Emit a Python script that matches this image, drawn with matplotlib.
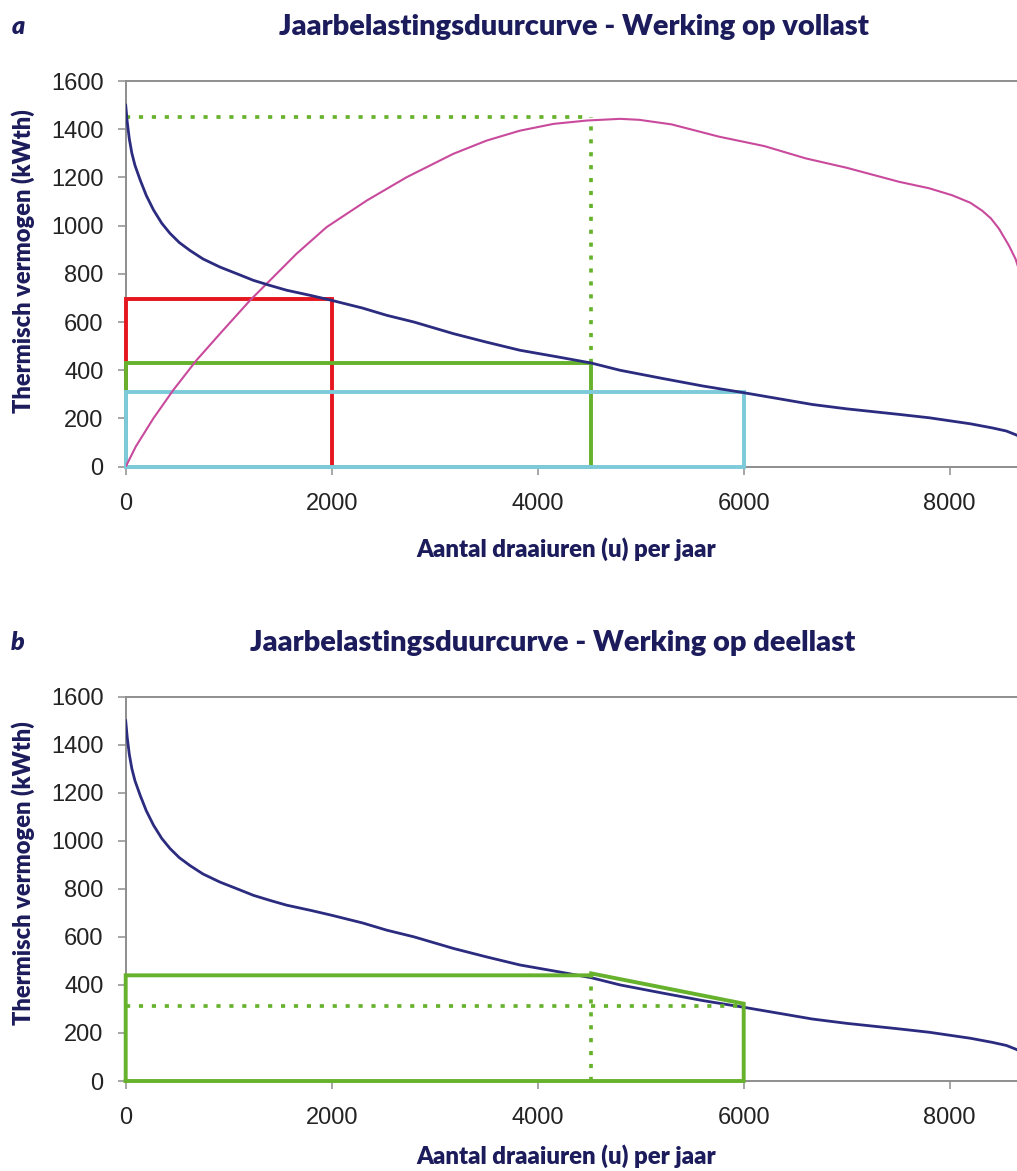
import matplotlib
matplotlib.use("Agg")
import matplotlib.pyplot as plt
import numpy as np

plt.rcParams['lines.scale_dashes'] = False
plt.rcParams['font.family'] = ['Liberation Sans', 'DejaVu Sans']

# ---------------- data ----------------
hours_load = [0, 15, 35, 60, 90, 140, 200, 270, 350, 430, 520, 624, 750, 916, 1100,
              1240, 1400, 1563, 1800, 2000, 2300, 2534, 2800, 3181, 3500, 3828, 4200,
              4520, 4800, 5200, 5600, 6000, 6300, 6667, 7000, 7507, 7800, 8024, 8200,
              8412, 8550, 8639, 8700, 8760]
load_kw = [1500, 1430, 1360, 1300, 1250, 1190, 1125, 1065, 1010, 968, 930, 897, 862,
           828, 797, 773, 752, 732, 710, 690, 658, 628, 600, 552, 517, 483, 455, 430,
           400, 367, 335, 307, 285, 258, 240, 217, 203, 189, 178, 161, 148, 133, 120, 100]

hours_energy = [0, 100, 268, 462, 688, 916, 1207, 1401, 1660, 1951, 2340, 2728, 3181,
                3505, 3828, 4152, 4476, 4800, 4985, 5300, 5761, 6200, 6602, 7000, 7507,
                7800, 8024, 8200, 8315, 8400, 8477, 8574, 8639, 8700, 8760]
energy_val = [0, 85, 200, 318, 442, 552, 690, 773, 884, 994, 1104, 1201, 1298, 1353,
              1394, 1422, 1436, 1443, 1439, 1420, 1369, 1330, 1279, 1240, 1182, 1155,
              1126, 1095, 1062, 1030, 988, 918, 862, 780, 650]

# top chart: boxes (hours, capacity)
red_box = (2000, 695)
green_box = (4520, 430)
cyan_box = (6000, 308)
peak_level = 1450

# bottom chart: partial-load operation
part_x = [0, 0, 4520, 4520, 6000, 6000, 0]
part_y = [0, 440, 440, 448, 322, 0, 0]
part_mean = 313
part_split = 4520

xticks = [0, 2000, 4000, 6000, 8000]
yticks = [0, 200, 400, 600, 800, 1000, 1200, 1400, 1600]

titles = ["Jaarbelastingsduurcurve - Werking op vollast",
          "Jaarbelastingsduurcurve - Werking op deellast"]
panel_letters = ["a", "b"]
ylabel = "Thermisch vermogen (kWth)"
xlabel = "Aantal draaiuren (u) per jaar"

# ---------------- style ----------------
NAVY_TXT = '#1c1c5c'
NAVY = '#2b2b80'
PINK = '#c94a9c'
RED = '#e5161f'
GREEN = '#67b22d'
CYAN = '#7dcadb'
SPINE = '#8e8e8e'
TITLE_FONT = ['Lato', 'DejaVu Sans']

W, H = 1017, 1171
fig = plt.figure(figsize=(W / 100, H / 100), dpi=100)

def px_axes(left, right, top, bottom):
    return [left / W, (H - bottom) / H, (right - left) / W, (bottom - top) / H]

ax1 = fig.add_axes(px_axes(125.7, 1028, 81, 466.7))
ax2 = fig.add_axes(px_axes(125.7, 1028, 696.7, 1081))

RLW = 3.9 * 0.72   # rectangle line width in pt
DLW = 3.7 * 0.72
DOT = dict(linestyle=(0, (3.0, 6.3)), dash_capstyle='butt')

def style_axes(ax):
    ax.set_xlim(0, 8760)
    ax.set_ylim(0, 1600)
    ax.set_xticks(xticks)
    ax.set_yticks(yticks)
    for s in ['top', 'left', 'bottom']:
        ax.spines[s].set_color(SPINE)
        ax.spines[s].set_linewidth(1.4)
    ax.spines['right'].set_visible(False)
    ax.tick_params(direction='out', length=6, width=1.1, color=SPINE,
                   labelsize=17, labelcolor='#232323')
    ax.tick_params(axis='x', pad=13)
    ax.tick_params(axis='y', pad=10)

for ax in (ax1, ax2):
    style_axes(ax)

# ---- top chart ----
def rect(ax, w, h, color, z):
    ax.plot([0, 0, w, w, 0], [0, h, h, 0, 0], color=color, lw=RLW, zorder=z,
            clip_on=False, solid_joinstyle='miter')

rect(ax1, *red_box, RED, 3)
rect(ax1, *green_box, GREEN, 4)
rect(ax1, *cyan_box, CYAN, 5)
ax1.plot([0, green_box[0]], [peak_level, peak_level], color=GREEN, lw=DLW, zorder=4, **DOT)
ax1.plot([green_box[0], green_box[0]], [green_box[1], peak_level], color=GREEN, lw=DLW, zorder=4, **DOT)
ax1.plot(hours_energy, energy_val, color=PINK, lw=1.5, zorder=6)
ax1.plot(hours_load, load_kw, color=NAVY, lw=2.0, zorder=7)

# ---- bottom chart ----
ax2.plot(hours_load, load_kw, color=NAVY, lw=2.0, zorder=3)
ax2.plot(part_x, part_y, color=GREEN, lw=RLW, zorder=5, clip_on=False, solid_joinstyle='miter')
ax2.plot([0, part_x[4]], [part_mean, part_mean], color=GREEN, lw=DLW, zorder=4, **DOT)
ax2.plot([part_split, part_split], [0, part_y[1]], color=GREEN, lw=DLW, zorder=4, **DOT)

# ---- texts ----
def ftext(x, y, s, **kw):
    fig.text(x / W, 1 - y / H, s, **kw)

TW = 'heavy'
ftext(574, 27, titles[0], ha='center', va='center', fontsize=20.9, fontweight=TW,
      color=NAVY_TXT, family=TITLE_FONT)
ftext(553, 643, titles[1], ha='center', va='center', fontsize=20.9, fontweight=TW,
      color=NAVY_TXT, family=TITLE_FONT)
ftext(18, 27, panel_letters[0], ha='center', va='center', fontsize=18, fontweight=TW,
      style='italic', color=NAVY_TXT, family=TITLE_FONT)
ftext(18, 643, panel_letters[1], ha='center', va='center', fontsize=18, fontweight=TW,
      style='italic', color=NAVY_TXT, family=TITLE_FONT)
ftext(566, 549, xlabel, ha='center', va='center', fontsize=17.2, fontweight=TW,
      color=NAVY_TXT, family=TITLE_FONT)
ftext(566, 1156, xlabel, ha='center', va='center', fontsize=17.2, fontweight=TW,
      color=NAVY_TXT, family=TITLE_FONT)
ftext(23, 261, ylabel, ha='center', va='center', rotation=90, fontsize=17,
      fontweight=TW, color=NAVY_TXT, family=TITLE_FONT)
ftext(23, 873, ylabel, ha='center', va='center', rotation=90, fontsize=17,
      fontweight=TW, color=NAVY_TXT, family=TITLE_FONT)

fig.savefig('out.png', dpi=100, facecolor='white')
